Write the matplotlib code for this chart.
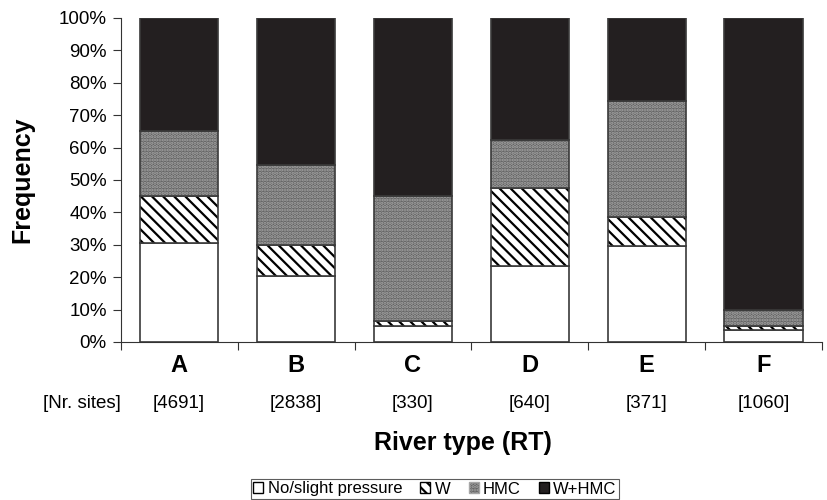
import numpy as np
import matplotlib.pyplot as plt
from matplotlib.patches import Patch

plt.rcParams['font.family'] = ['Liberation Sans', 'DejaVu Sans']
plt.rcParams['hatch.linewidth'] = 1.6

# river types and number of sites
river_types = ['A', 'B', 'C', 'D', 'E', 'F']
n_sites = ['[4691]', '[2838]', '[330]', '[640]', '[371]', '[1060]']

# percentages per pressure class (stacked, sum = 100)
no_slight = [30.5, 20.5, 5.0, 23.5, 29.5, 3.6]
w_only = [14.5, 9.5, 1.5, 24.0, 9.0, 1.4]
hmc = [20.0, 24.5, 38.5, 15.0, 36.0, 4.8]
w_hmc = [35.0, 45.5, 55.0, 37.5, 25.5, 90.2]

fig = plt.figure(figsize=(8.27, 5.0), dpi=100)
ax = fig.add_axes([0.146, 0.316, 0.848, 0.648])

x = np.arange(len(river_types)) + 0.5
width = 0.67
edge = '#3a3a3a'
hmc_face = '#626262'
hmc_hatch = '#a6a6a6'

bottom = np.zeros(len(x))
# white part
ax.bar(x, no_slight, width, bottom=bottom, color='white', edgecolor=edge, linewidth=1.2)
bottom += np.array(no_slight)
# W: diagonal hatch
ax.bar(x, w_only, width, bottom=bottom, color='white', edgecolor='black', hatch='\\\\\\', linewidth=0)
ax.bar(x, w_only, width, bottom=bottom, fill=False, edgecolor=edge, linewidth=1.2)
bottom += np.array(w_only)
# HMC: fine grey dither
ax.bar(x, hmc, width, bottom=bottom, color=hmc_face, edgecolor=hmc_hatch, hatch='.....', linewidth=0)
ax.bar(x, hmc, width, bottom=bottom, fill=False, edgecolor=edge, linewidth=1.2)
bottom += np.array(hmc)
# W+HMC: black
ax.bar(x, w_hmc, width, bottom=bottom, color='#231f20', edgecolor=edge, linewidth=1.2)

ax.set_xlim(0, 6)
ax.set_ylim(0, 100)
ax.set_yticks(np.arange(0, 101, 10))
ax.set_yticklabels([f'{v}%' for v in range(0, 101, 10)], fontsize=13.5)
ax.set_xticks(np.arange(0, 7))
ax.set_xticklabels([])
ax.set_xticks(x, minor=True)
ax.set_xticklabels(river_types, minor=True, fontsize=17, fontweight='bold')
ax.tick_params(axis='x', which='minor', length=0, pad=9)
ax.tick_params(axis='both', which='major', direction='out', length=6, color='#333333', pad=4)

for s in ['top', 'right']:
    ax.spines[s].set_visible(False)
for s in ['left', 'bottom']:
    ax.spines[s].set_color('#333333')

fig.text(22 / 827, 0.64, 'Frequency', rotation=90, ha='center', va='center',
         fontsize=18, fontweight='bold')

trans = ax.get_xaxis_transform()
for xi, n in zip(x, n_sites):
    ax.text(xi, -0.191, n, transform=trans, ha='center', va='center', fontsize=13.5)
ax.text(-0.33, -0.191, '[Nr. sites]', transform=trans, ha='center', va='center', fontsize=13.5)

fig.text(0.56, 0.114, 'River type (RT)', ha='center', va='center', fontsize=18, fontweight='bold')

handles = [
    Patch(facecolor='white', edgecolor='black', label='No/slight pressure'),
    Patch(facecolor='white', edgecolor='black', hatch='\\\\\\', label='W'),
    Patch(facecolor=hmc_face, edgecolor=hmc_hatch, hatch='.....', label='HMC'),
    Patch(facecolor='#231f20', edgecolor='black', label='W+HMC'),
]
leg = fig.legend(handles=handles, loc='center', bbox_to_anchor=(0.526, 0.022), ncol=4,
                 fontsize=12, frameon=True, fancybox=False, edgecolor='#333333',
                 handlelength=0.6, handleheight=0.6, handletextpad=0.25, columnspacing=1.1,
                 borderpad=0.15, borderaxespad=0)
leg.get_frame().set_linewidth(0.8)

fig.savefig('out.png', dpi=100)
